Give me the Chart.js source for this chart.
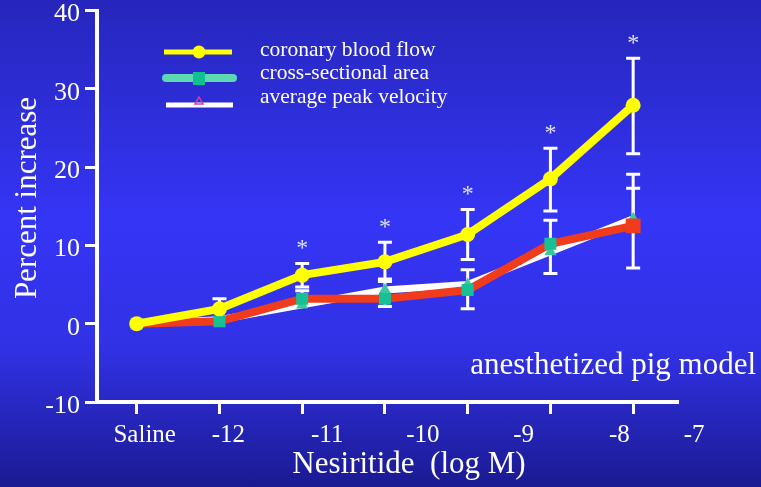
<!DOCTYPE html>
<html>
<head>
<meta charset="utf-8">
<script src="https://cdn.jsdelivr.net/npm/chart.js@4.4.1/dist/chart.umd.min.js"></script>
<style>
  html, body { margin: 0; padding: 0; }
  body { width: 761px; height: 487px; overflow: hidden;
    background: linear-gradient(to bottom, #2626bc 0%, #3535f6 45%, #3131e4 72%, #1a1a92 100%); }
  #wrap { position: relative; width: 761px; height: 487px; }
</style>
</head>
<body>
<div id="wrap"><canvas id="c" width="761" height="487"></canvas></div>
<script>
var doses = ['Saline', '-12', '-11', '-10', '-9', '-8', '-7'];
var yTicks = [-10, 0, 10, 20, 30, 40];

var flow = [0, 1.9, 6.2, 7.9, 11.4, 18.5, 27.9];
var flowErrUp = [0, 1.3, 1.5, 2.5, 3.2, 3.9, 6.0];
var flowErrDown = [0, 1.3, 1.5, 2.5, 3.2, 4.1, 6.2];

var area = [0, 0.3, 3.2, 3.2, 4.3, 10.2, 12.5];
var areaErrUp = [0, 0, 1.0, 1.0, 2.6, 3.0, 4.8];
var areaErrDown = [0, 0, 0, 0, 0, 0, 0];

var velocity = [0, 0.5, 2.4, 4.3, 5.0, 9.2, 13.4];
var velErrUp = [0, 0, 0, 1.4, 0, 0, 5.7];
var velErrDown = [0, 0, 0, 2.1, 3.1, 2.8, 6.3];

var stars = ['', '', '*', '*', '*', '*', '*'];

var SERIF = '"Liberation Serif", "Times New Roman", serif';

function pts(arr) { return arr.map(function (v, i) { return { x: i, y: v }; }); }

// error bars go under the lines
var errorBars = {
  id: 'errorBars',
  beforeDatasetsDraw: function (chart) {
    var ctx = chart.ctx, xs = chart.scales.x, ys = chart.scales.y;
    ctx.save();
    ctx.strokeStyle = '#ffffff';
    ctx.lineWidth = 3;
    chart.data.datasets.forEach(function (ds) {
      ds.data.forEach(function (p, i) {
        var x = xs.getPixelForValue(p.x);
        [[ds.errUp[i], 1], [ds.errDown[i], -1]].forEach(function (e) {
          if (!e[0]) return;
          var y0 = ys.getPixelForValue(p.y), y1 = ys.getPixelForValue(p.y + e[1] * e[0]);
          ctx.beginPath();
          ctx.moveTo(x, y0); ctx.lineTo(x, y1);
          ctx.moveTo(x - 7, y1); ctx.lineTo(x + 7, y1);
          ctx.stroke();
        });
      });
    });
    ctx.restore();
  }
};

var labelShift = [8, 9, 25, 38, 56, 69, 61];
var legendRows = [
  { text: 'coronary blood flow', ty: 50, sy: 52, line: '#ffff00', lw: 5, x0: 164, x1: 232, marker: 'circle', mc: '#ffff00' },
  { text: 'cross-sectional area', ty: 73, sy: 78, line: '#5ed8b0', lw: 8, x0: 166, x1: 233, marker: 'square', mc: '#10c090' },
  { text: 'average peak velocity', ty: 97, sy: 105, line: '#ffffff', lw: 5, x0: 166, x1: 233, marker: 'triangle', mc: '#d040a0' }
];

var texts = {
  id: 'texts',
  afterDraw: function (chart) {
    var ctx = chart.ctx, xs = chart.scales.x, ys = chart.scales.y;
    ctx.save();
    ctx.fillStyle = '#ffffff';
    ctx.textBaseline = 'middle';
    ctx.textAlign = 'center';

    ctx.font = '25px ' + SERIF;
    doses.forEach(function (d, i) {
      ctx.fillText(d, xs.getPixelForValue(i) + labelShift[i], 435);
    });
    ctx.font = '31px ' + SERIF;
    ctx.fillText('Nesiritide  (log M)', 409, 465);

    ctx.save();
    ctx.translate(28, 198);
    ctx.rotate(-Math.PI / 2);
    ctx.font = '31px ' + SERIF;
    ctx.fillText('Percent increase', 0, 0);
    ctx.restore();

    ctx.textAlign = 'right';
    ctx.font = '31px ' + SERIF;
    ctx.fillText('anesthetized pig model', 756, 366);

    // significance marks above the blood flow bars
    ctx.textAlign = 'center';
    ctx.textBaseline = 'alphabetic';
    ctx.fillStyle = '#e0e0ff';
    ctx.font = '24px ' + SERIF;
    stars.forEach(function (s, i) {
      if (!s) return;
      var top = ys.getPixelForValue(flow[i] + flowErrUp[i]);
      ctx.fillText(s, xs.getPixelForValue(i), top - 20 + 12);
    });

    // legend: line + marker
    ctx.textAlign = 'left';
    ctx.textBaseline = 'middle';
    ctx.font = '21.5px ' + SERIF;
    legendRows.forEach(function (r) {
      ctx.strokeStyle = r.line;
      ctx.lineWidth = r.lw;
      ctx.lineCap = r.marker === 'square' ? 'round' : 'butt';
      ctx.beginPath(); ctx.moveTo(r.x0, r.sy); ctx.lineTo(r.x1, r.sy); ctx.stroke();
      var cx = 199;
      ctx.fillStyle = r.mc;
      ctx.beginPath();
      if (r.marker === 'circle') {
        ctx.arc(cx, r.sy, 6.5, 0, Math.PI * 2); ctx.fill();
      } else if (r.marker === 'square') {
        ctx.fillRect(cx - 6, r.sy - 6, 12, 13);
      } else {
        ctx.moveTo(cx, r.sy - 8); ctx.lineTo(cx + 4, r.sy - 1); ctx.lineTo(cx - 4, r.sy - 1); ctx.closePath();
        ctx.strokeStyle = r.mc; ctx.lineWidth = 1.5; ctx.stroke();
      }
      ctx.fillStyle = '#ffffff';
      ctx.fillText(r.text, 260, r.ty);
    });
    ctx.restore();
  }
};

var axisGrid = { drawOnChartArea: false, drawTicks: true, tickLength: 12, color: '#ffffff', lineWidth: 3 };
var axisBorder = { color: '#ffffff', width: 4 };

new Chart(document.getElementById('c').getContext('2d'), {
  type: 'line',
  data: {
    datasets: [
      {
        label: 'coronary blood flow', data: pts(flow), errUp: flowErrUp, errDown: flowErrDown,
        borderColor: '#ffff00', borderWidth: 8, pointStyle: 'circle', pointRadius: 7.5,
        pointBackgroundColor: '#ffff00', pointBorderWidth: 0
      },
      {
        label: 'cross-sectional area', data: pts(area), errUp: areaErrUp, errDown: areaErrDown,
        borderColor: '#f03c1c', borderWidth: 8, pointStyle: 'rect',
        pointRadius: area.map(function (v, i) { return i === area.length - 1 ? 10.5 : 8.5; }),
        pointBackgroundColor: area.map(function (v, i) { return i === area.length - 1 ? '#f03c1c' : '#18c096'; }),
        pointBorderWidth: 0
      },
      {
        label: 'average peak velocity', data: pts(velocity), errUp: velErrUp, errDown: velErrDown,
        borderColor: '#ffffff', borderWidth: 7, pointStyle: 'triangle', pointRadius: 7,
        pointBackgroundColor: '#3cc8a0', pointBorderWidth: 0
      }
    ]
  },
  options: {
    responsive: false,
    animation: false,
    layout: { padding: { left: 0, right: 84, top: 10, bottom: 0 } },
    plugins: { legend: { display: false }, tooltip: { enabled: false } },
    scales: {
      x: {
        type: 'linear', min: -0.48, max: 6.53,
        afterBuildTicks: function (s) { s.ticks = doses.map(function (d, i) { return { value: i }; }); },
        afterFit: function (s) { s.height = 85; },
        ticks: { display: false },
        grid: axisGrid,
        border: axisBorder
      },
      y: {
        min: -10, max: 40,
        afterBuildTicks: function (s) { s.ticks = yTicks.map(function (v) { return { value: v }; }); },
        afterFit: function (s) { s.width = 97; s.paddingTop = 0; s.paddingBottom = 0; },
        ticks: { color: '#ffffff', font: { family: SERIF, size: 26 }, padding: 5, labelOffset: 4 },
        grid: axisGrid,
        border: axisBorder
      }
    }
  },
  plugins: [errorBars, texts]
});
</script>
</body>
</html>
